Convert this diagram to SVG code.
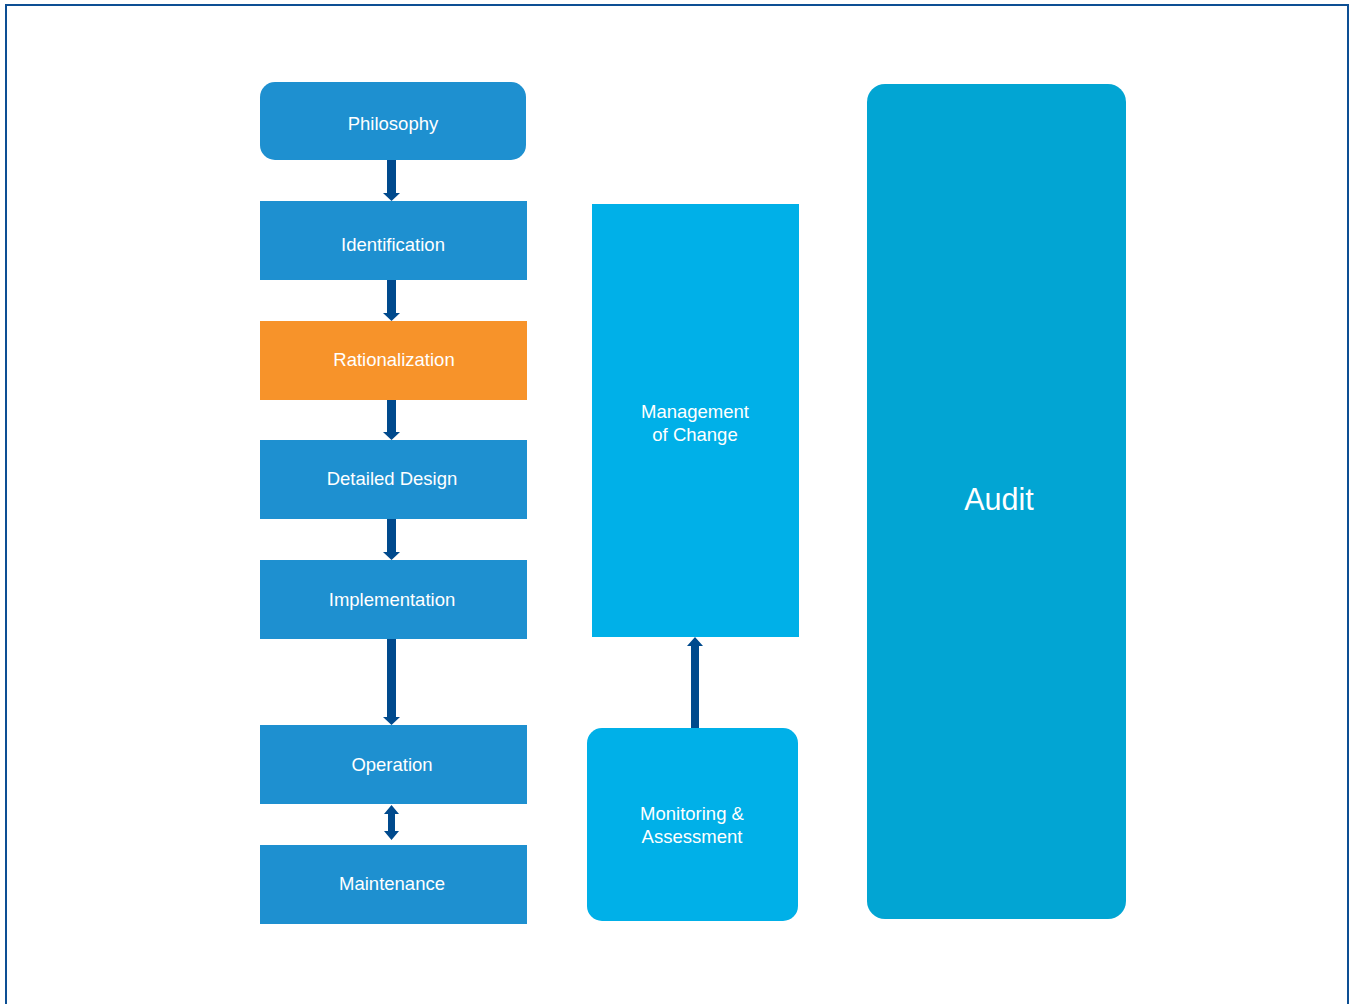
<svg xmlns="http://www.w3.org/2000/svg" width="1351" height="1004" viewBox="0 0 1351 1004">
<defs>
<style>
.b{fill:#1E90D0}
.t{font-family:"Liberation Sans",Arial,sans-serif;font-size:18.5px;fill:#ffffff;text-anchor:middle}
.a{fill:#004A8D}
</style>
</defs>
<rect x="0" y="0" width="1351" height="1004" fill="#ffffff"/>
<rect x="6" y="5" width="1342" height="1010" fill="none" stroke="#0D4F94" stroke-width="2"/>
<g id="philosophy"><rect class="b" x="260" y="82" width="266" height="78" rx="15"/><text class="t" x="393" y="130">Philosophy</text></g>
<g id="identification"><rect class="b" x="260" y="201" width="267" height="79"/><text class="t" x="393" y="251">Identification</text></g>
<g id="rationalization"><rect x="260" y="321" width="267" height="79" fill="#F7932A"/><text class="t" x="394" y="366">Rationalization</text></g>
<g id="detailed"><rect class="b" x="260" y="440" width="267" height="79"/><text class="t" x="392" y="485">Detailed Design</text></g>
<g id="implementation"><rect class="b" x="260" y="560" width="267" height="79"/><text class="t" x="392" y="606">Implementation</text></g>
<g id="operation"><rect class="b" x="260" y="725" width="267" height="79"/><text class="t" x="392" y="771">Operation</text></g>
<g id="maintenance"><rect class="b" x="260" y="845" width="267" height="79"/><text class="t" x="392" y="890">Maintenance</text></g>
<g id="moc"><rect x="592" y="204" width="207" height="433" fill="#00B0E8"/><text class="t" x="695" y="418">Management</text><text class="t" x="695" y="441">of Change</text></g>
<g id="monitoring"><rect x="587" y="728" width="211" height="193" rx="15" fill="#00B0E8"/><text class="t" x="692" y="820">Monitoring &amp;</text><text class="t" x="692" y="843">Assessment</text></g>
<g id="audit"><rect x="867" y="84" width="259" height="835" rx="18" fill="#02A5D3"/><text class="t" x="999" y="510" style="font-size:30.5px">Audit</text></g>
<g id="connectors">
<path class="a" d="M387 160H396V193H400L391.5 201L383 193H387Z"/>
<path class="a" d="M387 280H396V313H400L391.5 321L383 313H387Z"/>
<path class="a" d="M387 400H396V432H400L391.5 440L383 432H387Z"/>
<path class="a" d="M387 519H396V552H400L391.5 560L383 552H387Z"/>
<path class="a" d="M387 639H396V717H400L391.5 725L383 717H387Z"/>
<path class="a" d="M391.5 805L399 814H395V831H399L391.5 840L384 831H388V814H384Z"/>
<path class="a" d="M691 728V646H687L695 637L703 646H699V728Z"/>
</g>
</svg>
